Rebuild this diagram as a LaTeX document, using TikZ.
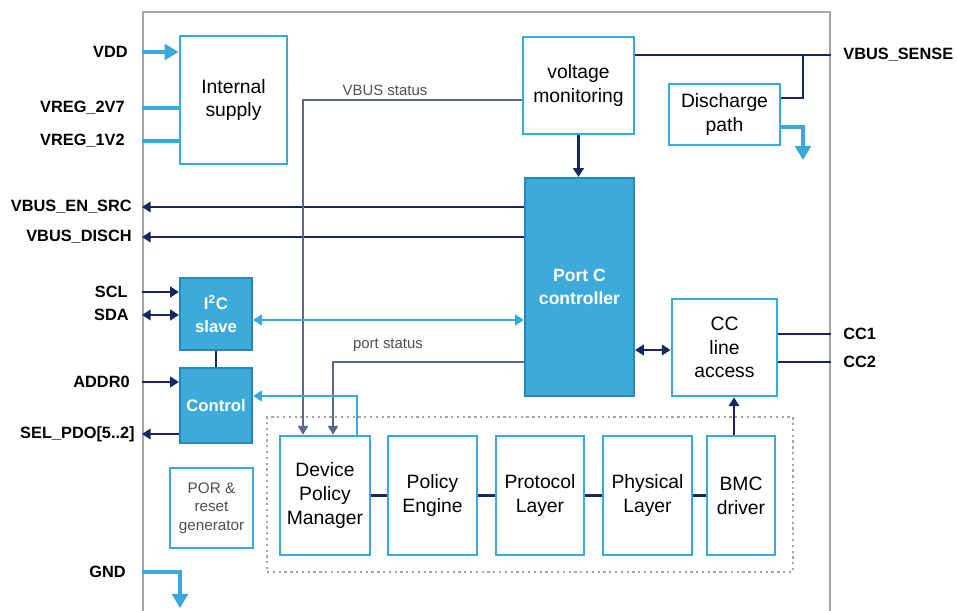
\documentclass[tikz,border=0pt]{standalone}
\usepackage{fontspec}
\setmainfont{Liberation Sans}
\usepackage{xcolor}
\usetikzlibrary{positioning,arrows.meta}
\definecolor{stblue}{RGB}{57,169,219}
\definecolor{stfill}{RGB}{62,170,218}
\definecolor{stedge}{RGB}{36,136,186}
\definecolor{stnavy}{RGB}{22,38,98}
\definecolor{stgrey}{RGB}{165,165,165}
\definecolor{sigline}{RGB}{95,102,135}
\definecolor{txtgrey}{RGB}{80,80,80}
\tikzset{
  blk/.style={draw=stblue, line width=1.6pt, fill=white, align=center, inner sep=0pt,
    font=\fontsize{11}{13.5}\selectfont},
  fblk/.style={draw=stedge, line width=1.2pt, fill=stfill, text=white, align=center, inner sep=0pt,
    font=\bfseries\fontsize{10}{13}\selectfont},
  pinl/.style={anchor=east, inner sep=0pt, font=\bfseries\fontsize{9.3}{10}\selectfont},
  pinr/.style={anchor=west, inner sep=0pt, font=\bfseries\fontsize{9.3}{10}\selectfont},
  sigtext/.style={text=txtgrey, font=\fontsize{8.5}{10}\selectfont},
  bus/.style={stnavy, line width=1.3pt},
  lbus/.style={stblue, line width=1.8pt},
  sig/.style={sigline, line width=0.6pt},
  tip/.style={-{Triangle[length=5pt,width=6pt]}},
  tips/.style={{Triangle[length=5pt,width=6pt]}-{Triangle[length=5pt,width=6pt]}},
  bigtip/.style={-{Triangle[length=8pt,width=9pt]}},
}

\begin{document}
\begin{tikzpicture}[x=0.02cm, y=-0.02cm]
        \useasboundingbox (0,0) rectangle (957,611);
        \clip (0,0) rectangle (957,611);
        \fill[white] (0,0) rectangle (957,611);

        % chip outline
        \node[draw=stgrey, line width=1.3pt, minimum width=13.74cm, minimum height=12.56cm] (chip) at (486.5,326) {};

        % blocks
        \node[blk, minimum width=2.14cm, minimum height=2.56cm] (isup) at (233.5,100) {Internal\\supply};
        \node[blk, minimum width=2.22cm, minimum height=1.94cm] (vmon) at (578.5,85.5) {voltage\\monitoring};
        \node[blk, minimum width=2.22cm, minimum height=1.22cm] (dis) at (724.5,114.5) {Discharge\\path};
        \node[fblk, minimum width=2.18cm, minimum height=4.36cm] (portc) at (579.5,287) {Port C\\controller};
        \node[fblk, minimum width=1.44cm, minimum height=1.44cm, font=\bfseries\fontsize{9.5}{13}\selectfont] (i2c) at (216,314) {I\textsuperscript{2}C\\slave};
        \node[fblk, minimum width=1.44cm, minimum height=1.5cm, font=\bfseries\fontsize{9.5}{13}\selectfont] (ctrl) at (216,405.5) {Control};
        \node[blk, minimum width=2.10cm, minimum height=1.94cm] (cc) at (724.5,347.5) {CC\\line\\access};
        \node[blk, minimum width=1.66cm, minimum height=1.60cm, text=txtgrey, font=\fontsize{8.7}{10.5}\selectfont] (por) at (211.5,508) {POR \&\\reset\\generator};

        % PD stack
        \node[draw=stgrey, dotted, line width=1.3pt, minimum width=10.52cm, minimum height=3.10cm] (stack) at (530,494.5) {};
        \node[blk, minimum width=1.80cm, minimum height=2.38cm] (dpm) at (325,495.5) {Device\\Policy\\Manager};
        \node[blk, minimum width=1.78cm, minimum height=2.38cm] (pe) at (432.5,495.5) {Policy\\Engine};
        \node[blk, minimum width=1.76cm, minimum height=2.38cm] (proto) at (540,495.5) {Protocol\\Layer};
        \node[blk, minimum width=1.78cm, minimum height=2.38cm] (phy) at (647.5,495.5) {Physical\\Layer};
        \node[blk, minimum width=1.36cm, minimum height=2.38cm] (bmc) at (741,495.5) {BMC\\driver};

        % pins
        \node[pinl] (vdd) at (128,52) {VDD};
        \node[pinl] (vreg2) at (125,108) {VREG\_2V7};
        \node[pinl] (vreg1) at (125,141) {VREG\_1V2};
        \node[pinl] (vbusen) at (132,207) {VBUS\_EN\_SRC};
        \node[pinl] (vbusdis) at (132,237) {VBUS\_DISCH};
        \node[pinl] (scl) at (128,292) {SCL};
        \node[pinl] (sda) at (129,315) {SDA};
        \node[pinl] (addr) at (130,382) {ADDR0};
        \node[pinl] (selpdo) at (135,434) {SEL\_PDO[5..2]};
        \node[pinl] (gnd) at (126,572) {GND};
        \node[pinr] (vsense) at (843,55) {VBUS\_SENSE};
        \node[pinr] (cc1) at (843,334) {CC1};
        \node[pinr] (cc2) at (843,362) {CC2};

        \node[sigtext] (vbstat) at (385,90) {VBUS status};
        \node[sigtext] (pstat) at (388,345) {port status};

        \coordinate (tap) at (803,55);
        \coordinate (disout) at (803,160);
        \coordinate (gndout) at (180,608);

        % supply
        \draw[lbus, bigtip] (chip.west |- vdd) -- (isup.west |- vdd);
        \draw[lbus] (chip.west |- vreg2) -- (isup.west |- vreg2);
        \draw[lbus] (chip.west |- vreg1) -- (isup.west |- vreg1);
        \draw[lbus, bigtip] (chip.west |- gnd) -| (gndout);

        % vbus
        \draw[bus] (vmon.east |- vsense) -- (chip.east |- vsense);
        \draw[bus] (tap) |- (dis.east |- 0,98);
        \draw[lbus, bigtip] (dis.east |- 0,127) -| (disout);
        \draw[bus, tip] (vmon.south) -- (vmon.south |- portc.north);
        \draw[bus, tip] (portc.west |- vbusen) -- (chip.west |- vbusen);
        \draw[bus, tip] (portc.west |- vbusdis) -- (chip.west |- vbusdis);

        % status lines
        \draw[sig, tip] (vmon.west |- 0,100) -| ([xshift=-0.44cm]dpm.north);
        \draw[sig, tip] (portc.west |- 0,362) -| ([xshift=0.16cm]dpm.north);

        % I2C and control
        \draw[bus, tip] (chip.west |- scl) -- (i2c.west |- scl);
        \draw[bus, tips] (chip.west |- sda) -- (i2c.west |- sda);
        \draw[stblue, line width=1.4pt, tips] (i2c.east |- 0,320) -- (portc.west |- 0,320);
        \draw[bus] (i2c) -- (ctrl);
        \draw[bus, tip] (chip.west |- addr) -- (ctrl.west |- addr);
        \draw[bus, tip] (ctrl.west |- selpdo) -- (chip.west |- selpdo);
        \draw[stblue, line width=1.4pt, tip] ([xshift=0.64cm]dpm.north) |- (ctrl.east |- 0,396);

        % CC
        \draw[bus, tips] (portc.east |- 0,350) -- (cc.west |- 0,350);
        \draw[bus] (cc.east |- cc1) -- (chip.east |- cc1);
        \draw[bus] (cc.east |- cc2) -- (chip.east |- cc2);
        \draw[bus, tip] (bmc.north -| 734,0) -- (cc.south -| 734,0);

        % stack links
        \draw[bus] (dpm) -- (pe);
        \draw[bus] (pe) -- (proto);
        \draw[bus] (proto) -- (phy);
        \draw[bus] (phy) -- (bmc);
\end{tikzpicture}
\end{document}
